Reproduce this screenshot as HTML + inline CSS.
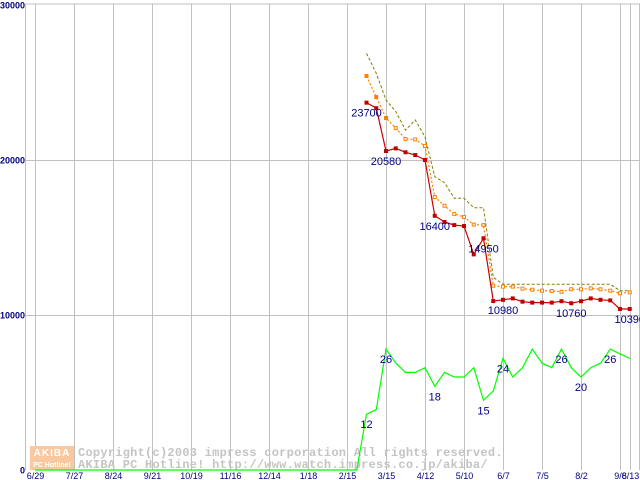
<!DOCTYPE html>
<html><head><meta charset="utf-8">
<style>
html,body{margin:0;padding:0;background:#fff;}
svg{display:block;}
text{font-family:"Liberation Sans",sans-serif;}
</style></head>
<body>
<svg id="chart" width="640" height="480" viewBox="0 0 640 480" xmlns="http://www.w3.org/2000/svg">
<g id="grid"></g>
<g id="watermark">
  <rect x="30" y="446" width="44" height="24" fill="#f8c8a0"/>
  <text x="52" y="456" font-size="10" font-weight="bold" fill="#fff" text-anchor="middle" letter-spacing="1">AKIBA</text>
  <text x="52" y="467" font-size="7" font-weight="bold" fill="#fff" text-anchor="middle">PC Hotline!</text>
  <text x="78" y="456" font-size="12" font-weight="bold" fill="#c4c4c4" letter-spacing="0.25" style="font-family:'Liberation Mono',monospace">Copyright(c)2003 impress corporation All rights reserved.</text>
  <text x="78" y="468" font-size="12" font-weight="bold" fill="#c4c4c4" letter-spacing="0.25" style="font-family:'Liberation Mono',monospace">AKIBA PC Hotline!  http://www.watch.impress.co.jp/akiba/</text>
</g>
<g id="series"></g>
<g id="labels"></g>
</svg>
<script>
const xTickLabels = ["6/29","7/27","8/24","9/21","10/19","11/16","12/14","1/18","2/15","3/15","4/12","5/10","6/7","7/5","8/2","9/6","8/13"];
const xTickIndex = [0,4,8,12,16,20,24,28,32,36,40,44,48,52,56,60,61];
const yTickLabels = ["0","10000","20000","30000"];
const yTickValues = [0,10000,20000,30000];
const priceStart = 34;
const minPrice = [23700,23340,20580,20750,20500,20320,20000,16400,16000,15800,15740,13910,14950,10900,10980,11070,10860,10800,10800,10800,10890,10760,10890,11070,10980,10940,10390,10390];
const avgPrice = [25420,24060,22710,22060,21350,21330,20900,17610,17050,16520,16320,15830,15800,11890,11830,11830,11700,11630,11570,11550,11500,11660,11660,11720,11660,11570,11400,11460];
const maxPrice = [26880,25590,23870,23120,21930,22580,21500,18920,18540,17530,17530,16920,16920,12430,11980,11980,11980,11980,11980,11980,11980,11980,11980,11980,11980,11980,11570,11570];
const shopCount = [0,0,0,0,0,0,0,0,0,0,0,0,0,0,0,0,0,0,0,0,0,0,0,0,0,0,0,0,0,0,0,0,0,0,12,13,26,23,21,21,22,18,21,20,20,22,15,17,24,20,22,26,23,22,26,22,20,22,23,26,25,24];
const priceLabels = [[0,"23700"],[2,"20580"],[7,"16400"],[12,"14950"],[14,"10980"],[21,"10760"],[27,"10390"]];
const countLabels = [[34,"12"],[36,"26"],[41,"18"],[46,"15"],[48,"24"],[54,"26"],[56,"20"],[59,"26"]];

const NS="http://www.w3.org/2000/svg";
const xs = i => 35 + i*9.75;
const yp = v => 470 - v*0.0155;
const yc = v => 470 - v*4.65;
function mk(tag, attrs, parent){const e=document.createElementNS(NS,tag);for(const k in attrs)e.setAttribute(k,attrs[k]);parent.appendChild(e);return e;}
const grid=document.getElementById('grid'), ser=document.getElementById('series'), lab=document.getElementById('labels');

let f=mk('line',{x1:25,y1:4,x2:640,y2:4,stroke:'#c0c0c0','stroke-width':1},grid);


f=mk('line',{x1:25.5,y1:4,x2:25.5,y2:470,stroke:'#c0c0c0','stroke-width':1},grid);


f=mk('line',{x1:639.5,y1:4,x2:639.5,y2:470,stroke:'#c0c0c0','stroke-width':1},grid);



xTickIndex.forEach((ix,k)=>{
  const x=Math.round(xs(ix))+0.5;
  const l=mk('line',{x1:x,y1:4,x2:x,y2:470,stroke:'#c0c0c0','stroke-width':1},grid);
  
  
  const t=mk('text',{x:x,y:479,'font-size':9,fill:'#000080','text-anchor':'middle'},lab);
  t.textContent=xTickLabels[k];
  
  
});
yTickValues.forEach((v,k)=>{
  const y=Math.round(yp(v))+0.5;
  if(v>0&&v<30000){
    const l=mk('line',{x1:25,y1:y,x2:640,y2:y,stroke:'#c0c0c0','stroke-width':1},grid);
    
    
  }
  const t=mk('text',{x:25,y:y+3,'font-size':9,'font-weight':'bold',fill:'#000080','text-anchor':'end'},lab);
  t.textContent=yTickLabels[k];
  
  
});

function pts(arr,start,fy){return arr.map((v,i)=>xs(start+i).toFixed(1)+','+fy(v).toFixed(1)).join(' ');}
let p=mk('polyline',{points:pts(shopCount,0,yc),fill:'none',stroke:'#00ff00','stroke-width':1.2},ser);


p=mk('polyline',{points:pts(maxPrice,priceStart,yp),fill:'none',stroke:'#808000','stroke-width':1,'stroke-dasharray':'3,2'},ser);


p=mk('polyline',{points:pts(avgPrice,priceStart,yp),fill:'none',stroke:'#ff8000','stroke-width':1.2,'stroke-dasharray':'2,2'},ser);


avgPrice.forEach((v,i)=>{
  const r=mk('rect',{x:xs(priceStart+i)-1.5,y:yp(v)-1.5,width:3,height:3,fill:i<3?'#ff8000':'#fff',stroke:'#ff8000','stroke-width':1},ser);
  
  
});
p=mk('polyline',{points:pts(minPrice,priceStart,yp),fill:'none',stroke:'#cc0000','stroke-width':1.2},ser);


minPrice.forEach((v,i)=>{
  const r=mk('rect',{x:xs(priceStart+i)-2,y:yp(v)-2,width:4,height:4,fill:'#c00000'},ser);
  
  
});
priceLabels.forEach(([i,s])=>{
  const t=mk('text',{x:xs(priceStart+i),y:yp(minPrice[i])+14,'font-size':11,fill:'#000080','text-anchor':'middle'},lab);
  t.textContent=s;
  
  
});
countLabels.forEach(([i,s])=>{
  const t=mk('text',{x:xs(i),y:yc(shopCount[i])+14,'font-size':11,fill:'#000080','text-anchor':'middle'},lab);
  t.textContent=s;
  
  
});
</script>
</body></html>
